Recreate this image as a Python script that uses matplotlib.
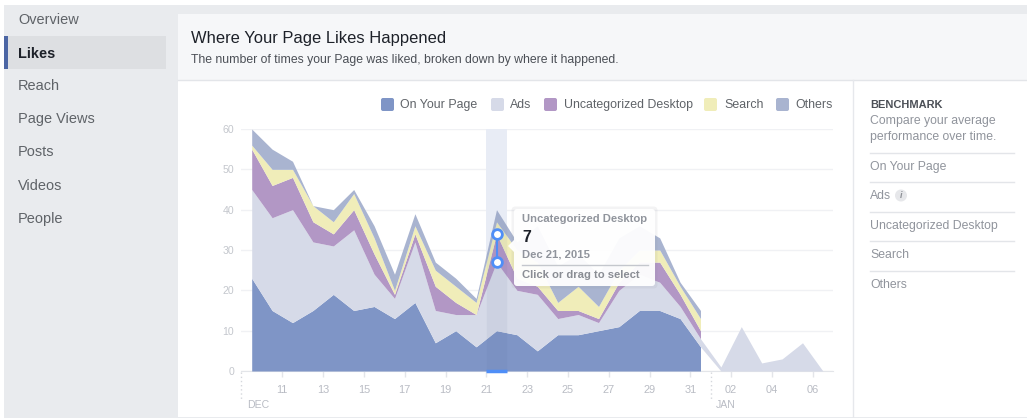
import matplotlib
matplotlib.use('Agg')
import matplotlib.pyplot as plt
from matplotlib.patches import FancyBboxPatch, Rectangle, Polygon, Circle
import numpy as np

plt.rcParams['font.family'] = ['Liberation Sans', 'DejaVu Sans']

# days counted from Dec 1, so 32 is Jan 1
days = list(range(9, 38))
on_your_page = [23, 15, 12, 15, 19, 15, 16, 13, 17, 7, 10, 6, 10, 9, 5, 9, 9, 10, 11, 15, 15, 13, 6]
ads = [22, 23, 28, 17, 12, 20, 8, 5, 15, 8, 4, 8, 17, 11, 14, 4, 5, 2, 9, 9, 7, 3, 2, 1, 11, 2, 3, 7, 0]
uncategorized = [10, 8, 8, 5, 3, 5, 5, 1, 2, 6, 3, 0, 7, 3, 2, 2, 1, 1, 2, 3, 5, 3, 2]
search = [1, 4, 2, 4, 3, 4, 4, 1, 2, 4, 4, 3, 3, 7, 6, 2, 6, 3, 3, 3, 3, 2, 3]
others = [4, 5, 2, 0, 3, 1, 3, 4, 3, 2, 2, 1, 3, 2, 9, 9, 8, 8, 8, 6, 3, 1, 2]

tick_days = [11, 13, 15, 17, 19, 21, 23, 25, 27, 29, 31, 33, 35, 37]
tick_labels = ['11', '13', '15', '17', '19', '21', '23', '25', '27', '29', '31', '02', '04', '06']
y_ticks = [0, 10, 20, 30, 40, 50, 60]
series_names = ['On Your Page', 'Ads', 'Uncategorized Desktop', 'Search', 'Others']
menu_items = ['Overview', 'Likes', 'Reach', 'Page Views', 'Posts', 'Videos', 'People']
benchmark_items = ['On Your Page', 'Ads', 'Uncategorized Desktop', 'Search', 'Others']

BLUE = '#7f95c6'
ADS = '#d6dae8'
PURPLE = '#b297c5'
YELLOW = '#f0edb9'
OTHERS = '#a9b4d0'
HILITE = '#4f8ef7'
W, H = 1027, 418


def px(size):
    # font size given in pixels of the 100 dpi picture
    return size * 0.72


fig = plt.figure(figsize=(W / 100, H / 100), dpi=100, facecolor='white')

# page background and panels, in picture pixels
bg = fig.add_axes([0, 0, 1, 1], zorder=0)
bg.set_xlim(0, W)
bg.set_ylim(H, 0)
bg.axis('off')
bg.add_patch(Rectangle((4, 5), W - 4, H - 5, fc='#e9ebee', ec='none'))
bg.add_patch(Rectangle((178, 14), W - 178, 66, fc='#f6f7f9', ec='none'))
bg.add_patch(Rectangle((178, 80), W - 178, 337, fc='white', ec='none'))
bg.plot([178, W], [80, 80], color='#e3e5e9', lw=1)
bg.plot([852.5, 852.5], [80, 417], color='#e6e8ec', lw=1)

# left menu
bg.add_patch(Rectangle((5, 36), 161, 33, fc='#dddfe2', ec='none'))
bg.add_patch(Rectangle((4, 36), 4, 33, fc='#4c66a4', ec='none'))
for i, item in enumerate(menu_items):
    bold = item == 'Likes'
    bg.text(18, 20.5 + 33 * i, item, fontsize=px(14.5), va='center',
            color='#1d2129' if bold else '#5f6368', fontweight='bold' if bold else 'normal')

# header
bg.text(191, 38, 'Where Your Page Likes Happened', fontsize=px(16.5), va='center', color='#1d2129')
bg.text(191, 59.5, 'The number of times your Page was liked, broken down by where it happened.',
        fontsize=px(12.3), va='center', color='#4b4f56')

# legend
legend_x = [381, 491, 544, 704, 776]
legend_text_x = [400, 510, 564, 724, 795]
for name, color, x0, xt in zip(series_names, [BLUE, ADS, PURPLE, YELLOW, OTHERS], legend_x, legend_text_x):
    bg.add_patch(FancyBboxPatch((x0 + 1, 99), 11, 11, boxstyle='round,pad=1,rounding_size=2', fc=color, ec='none'))
    bg.text(xt, 105, name, fontsize=px(12.4), va='center', color='#5f6368')

# benchmark column
bg.text(870, 105, 'BENCHMARK', fontsize=px(11), va='center', color='#4b4f56', fontweight='bold')
bg.text(870, 121, 'Compare your average', fontsize=px(12.2), va='center', color='#90949c')
bg.text(870, 137, 'performance over time.', fontsize=px(12.2), va='center', color='#90949c')
bench_y = [166, 195, 225, 254, 284]
for item, y in zip(benchmark_items, bench_y):
    bg.text(870, y + 1, item, fontsize=px(12.2), va='center', color='#90949c')
    bg.plot([870, 1014], [y - 13, y - 13], color='#e3e5e9', lw=1)
bg.add_patch(Circle((901, 195.5), 6, fc='#e6e7ea', ec='none'))
bg.text(901, 196, 'i', fontsize=px(9), ha='center', va='center', color='#8d9096',
        fontweight='bold', fontstyle='italic')

# chart, axes box set so that day d falls on 251.7 + 20.4 * (d - 9) px
left, right, top, bottom = 241, 833, 129, 371
ax = fig.add_axes([left / W, 1 - bottom / H, (right - left) / W, (bottom - top) / H], zorder=1)
ax.patch.set_alpha(0)
ax.set_xlim(9 + (left - 251.7) / 20.4, 9 + (right - 251.7) / 20.4)
ax.set_ylim(0, 60)

d = np.array(days, dtype=float)
n = len(on_your_page)
base = np.array(on_your_page + [0] * (len(days) - n), dtype=float)
ads_top = base + np.array(ads, dtype=float)
unc_top = ads_top[:n] + np.array(uncategorized, dtype=float)
search_top = unc_top + np.array(search, dtype=float)
others_top = search_top + np.array(others, dtype=float)

ax.fill_between(d[:n], 0, base[:n], color=BLUE, lw=0, zorder=3)
ax.fill_between(d, base, ads_top, color=ADS, lw=0, zorder=3)
ax.fill_between(d[:n], ads_top[:n], unc_top, color=PURPLE, lw=0, zorder=3)
ax.fill_between(d[:n], unc_top, search_top, color=YELLOW, lw=0, zorder=3)
ax.fill_between(d[:n], search_top, others_top, color=OTHERS, lw=0, zorder=3)

ax.set_yticks(y_ticks)
ax.set_xticks([t - 0.5 for t in tick_days])
ax.set_xticklabels(tick_labels)
ax.grid(axis='y', color='#f0f1f4', lw=1, zorder=1)
ax.set_axisbelow(True)
ax.tick_params(axis='y', length=0, labelsize=px(10.5), labelcolor='#c4c7cd', pad=5)
ax.tick_params(axis='x', length=4, width=1, color='#e3e5e9', labelsize=px(11), labelcolor='#b9bcc4', pad=6)
for side in ['top', 'right', 'left']:
    ax.spines[side].set_visible(False)
ax.spines['bottom'].set_color('#e3e5e9')

# highlighted day: pale behind the areas, a slight darkening only over them
sel = 21
ax.axvspan(sel - 0.5, sel + 0.5, color='#e8ecf5', lw=0, zorder=2)
band_x = np.array([sel - 0.5, sel, sel + 0.5])
ax.fill_between(band_x, 0, np.interp(band_x, d[:n], others_top), color='#50648f', alpha=0.07, lw=0, zorder=4)
ax.plot([sel - 0.5, sel + 0.5], [0, 0], color=HILITE, lw=2.5, solid_capstyle='butt', zorder=6, clip_on=False)
i_sel = days.index(sel)
sel_low, sel_high = ads_top[i_sel], unc_top[i_sel]
ax.plot([sel, sel], [sel_low, sel_high], color=HILITE, lw=1.5, zorder=6,
        marker='o', ms=7, mfc='white', mec=HILITE, mew=2)

# month dividers and labels, tooltip on top of everything
fg = fig.add_axes([0, 0, 1, 1], zorder=2)
fg.set_xlim(0, W)
fg.set_ylim(H, 0)
fg.axis('off')
fg.plot([241, 241], [372, 400], color='#d5d7dc', lw=1, ls=(0, (1, 2)))
fg.plot([710.5, 710.5], [372, 400], color='#d5d7dc', lw=1, ls=(0, (1, 2)))
fg.text(247, 405, 'DEC', fontsize=px(10.5), va='center', color='#b9bcc4')
fg.text(716, 405, 'JAN', fontsize=px(10.5), va='center', color='#b9bcc4')

fg.add_patch(FancyBboxPatch((513, 208), 143, 79, boxstyle='round,pad=1.5,rounding_size=4',
                            fc='#8a8d94', ec='none', alpha=0.10))
fg.add_patch(FancyBboxPatch((514, 209), 141, 77, boxstyle='round,pad=0,rounding_size=3',
                            fc='white', ec='none', alpha=0.95))
fg.add_patch(Polygon([[514, 240], [508, 246], [514, 252]], fc='white', ec='none', alpha=0.95))
fg.text(522, 219.5, 'Uncategorized Desktop', fontsize=px(11.3), va='center', color='#90949c', fontweight='bold')
fg.text(522, 237, '7', fontsize=px(16), va='center', color='#1d2129', fontweight='bold')
fg.text(522, 254.5, 'Dec 21, 2015', fontsize=px(11.3), va='center', color='#90949c', fontweight='bold')
fg.plot([522, 648], [264.5, 264.5], color='#c4c7cd', lw=1)
fg.text(522, 275.5, 'Click or drag to select', fontsize=px(11.3), va='center', color='#8a8d94', fontweight='bold')

fig.savefig('out.png', dpi=100, facecolor='white')
